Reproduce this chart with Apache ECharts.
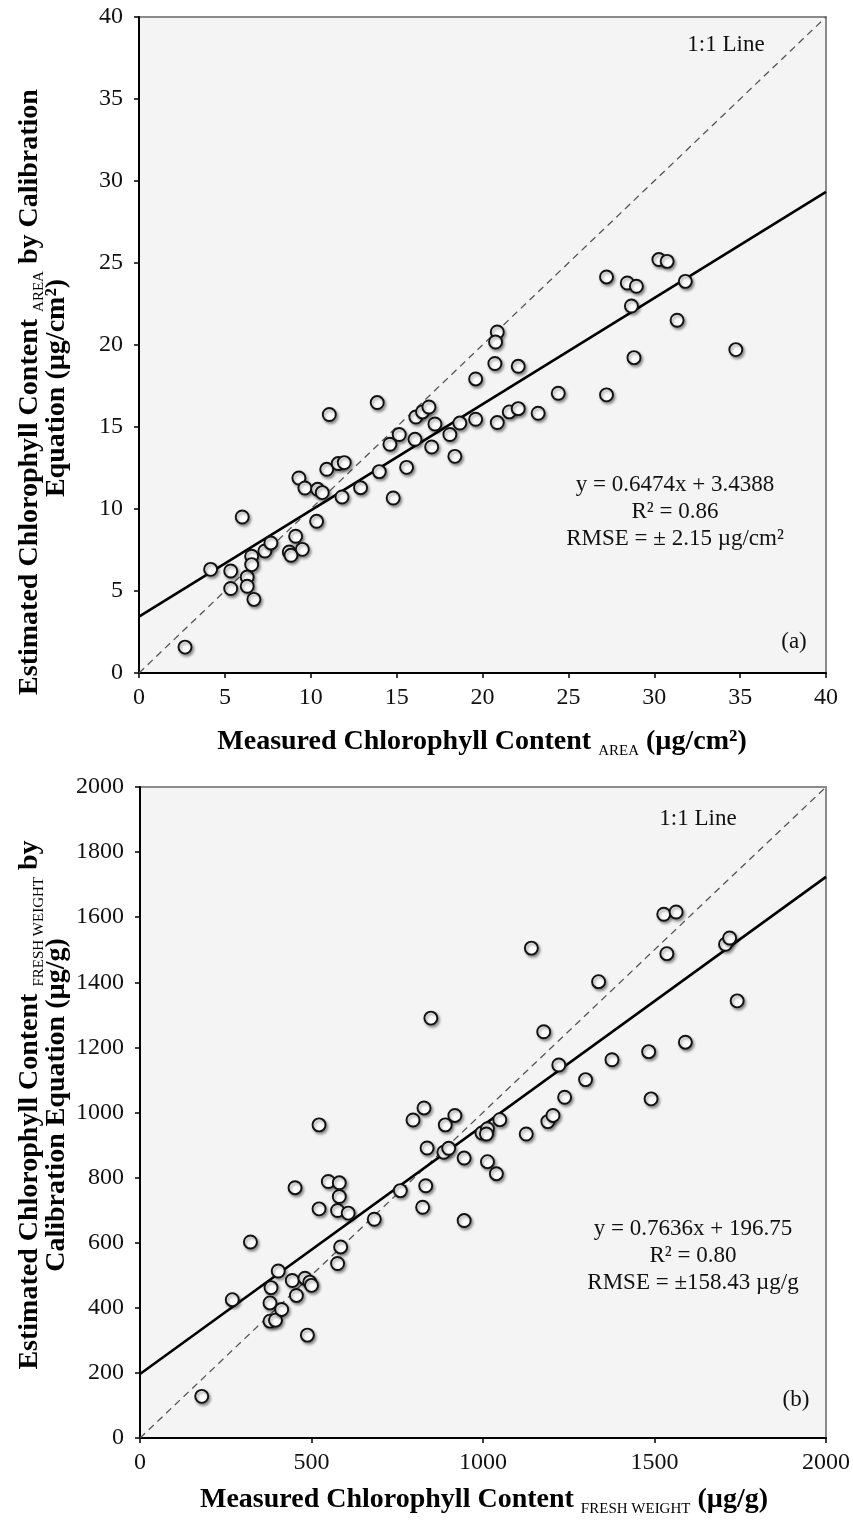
<!DOCTYPE html>
<html>
<head>
<meta charset="utf-8">
<script src="https://cdn.jsdelivr.net/npm/echarts@6/dist/echarts.min.js"></script>
<style>
  html, body { margin: 0; padding: 0; background: #ffffff; }
  #chart { width: 853px; height: 1521px; }
</style>
</head>
<body>
<div id="chart"></div>
<script>
// ---- Panel (a): chlorophyll content per area (µg/cm²) ----
const aMeasured = [2.68, 4.17, 6.01, 5.34, 5.34, 6.30, 6.30, 6.56, 6.56, 6.69, 7.33, 7.68, 8.75, 8.85, 9.12, 9.51,
  9.31, 9.66, 10.34, 10.40, 10.67, 11.08, 10.93, 11.60, 11.95, 11.82, 12.90, 13.87, 13.99, 14.61, 14.80, 15.15,
  15.58, 16.07, 16.12, 16.51, 16.88, 17.04, 17.23, 18.10, 18.39, 18.68, 19.60, 19.60, 20.86, 20.76, 20.72, 20.86,
  21.56, 22.08, 22.08, 23.24, 24.41, 27.22, 27.22, 28.43, 28.96, 28.67, 28.82, 30.27, 30.75, 31.81, 31.33, 34.75];
const aEstimated = [1.58, 6.32, 9.51, 6.22, 5.15, 5.85, 5.29, 7.12, 6.61, 4.49, 7.44, 7.93, 7.38, 7.18, 8.34, 7.54,
  11.89, 11.28, 9.25, 11.20, 11.00, 15.76, 12.42, 12.77, 12.83, 10.73, 11.30, 16.49, 12.28, 13.95, 10.67, 14.54,
  12.54, 14.25, 15.61, 15.92, 16.22, 13.78, 15.18, 14.54, 13.21, 15.24, 17.93, 15.47, 20.79, 20.18, 18.87, 15.27,
  15.92, 16.12, 18.70, 15.84, 17.06, 24.15, 16.96, 23.78, 23.58, 22.38, 19.23, 25.21, 25.10, 23.88, 21.51, 19.72];
const aSlope = 0.6474;
const aIntercept = 3.4388;
const aAxisMax = 40;
const aAxisStep = 5;

// ---- Panel (b): chlorophyll content per fresh weight (µg/g) ----
const bMeasured = [180, 269, 322, 379, 379, 395, 382, 403, 413, 444, 456, 452, 481, 495, 500, 488,
  522, 522, 549, 581, 581, 576, 607, 585, 576, 683, 759, 796, 828, 833, 824, 837,
  848, 890, 918, 886, 900, 945, 945, 997, 1013, 1010, 1049, 1013, 1039, 1126, 1141, 1177,
  1189, 1204, 1221, 1238, 1299, 1337, 1376, 1483, 1490, 1527, 1563, 1536, 1590, 1707, 1719, 1741];
const bEstimated = [128, 425, 602, 415, 359, 362, 462, 513, 395, 484, 438, 769, 491, 479, 469, 316,
  962, 704, 788, 784, 742, 699, 691, 587, 536, 672, 760, 977, 1014, 775, 709, 891,
  1290, 962, 991, 878, 890, 860, 668, 937, 950, 934, 978, 849, 812, 934, 1505, 1248,
  972, 991, 1146, 1047, 1101, 1402, 1162, 1187, 1042, 1609, 1616, 1488, 1216, 1517, 1536, 1343];
const bSlope = 0.7636;
const bIntercept = 196.75;
const bAxisMax = 2000;
const bXStep = 500;
const bYStep = 200;

// ---- Texts ----
const aEquation = ['y = 0.6474x + 3.4388', 'R² = 0.86', 'RMSE = ± 2.15 µg/cm²'];
const bEquation = ['y = 0.7636x + 196.75', 'R² = 0.80', 'RMSE = ±158.43 µg/g'];
const oneToOneLabel = '1:1 Line';

const SERIF = '"Liberation Serif", "Times New Roman", serif';

function pairs(xs, ys) { return xs.map((x, i) => [x, ys[i]]); }
function fitLine(slope, intercept, max) { return [[0, intercept], [max, slope * max + intercept]]; }

const scatterStyle = {
  color: '#ffffff',
  opacity: 1,
  borderColor: '#111111',
  borderWidth: 1.9,
  shadowBlur: 3,
  shadowColor: 'rgba(0,0,0,0.4)',
  shadowOffsetX: 1.5,
  shadowOffsetY: 2
};

function axisCommon(min, max, step) {
  return {
    type: 'value', min: min, max: max, interval: step,
    axisLine: { show: true, onZero: false, lineStyle: { color: '#000', width: 2 } },
    axisTick: { show: true, length: 5, lineStyle: { color: '#000', width: 1.5 } },
    splitLine: { show: false },
    axisLabel: { color: '#111', fontFamily: SERIF, fontSize: 24, formatter: function (v) { return String(v); } }
  };
}

const xa = axisCommon(0, aAxisMax, aAxisStep); xa.gridIndex = 0; xa.axisLabel.margin = 13;
const ya = axisCommon(0, aAxisMax, aAxisStep); ya.gridIndex = 0; ya.axisLabel.margin = 16;
const xb = axisCommon(0, bAxisMax, bXStep); xb.gridIndex = 1; xb.axisLabel.margin = 13;
const yb = axisCommon(0, bAxisMax, bYStep); yb.gridIndex = 1; yb.axisLabel.margin = 16;

const titleRich = {
  sub: { fontFamily: SERIF, fontSize: 15, fontWeight: 'normal', verticalAlign: 'bottom', lineHeight: 16 }
};
function titleText(x, y, text, rotated) {
  return {
    type: 'text', x: x, y: y, rotation: rotated ? Math.PI / 2 : 0,
    style: {
      text: text, fontFamily: SERIF, fontSize: 28, fontWeight: 'bold', fill: '#000',
      align: 'center', verticalAlign: 'middle', lineHeight: 34, rich: titleRich
    }
  };
}
function plainText(x, y, text, size) {
  return {
    type: 'text', x: x, y: y,
    style: { text: text, fontFamily: SERIF, fontSize: size, fill: '#111', align: 'center', verticalAlign: 'middle', lineHeight: 27 }
  };
}

const option = {
  backgroundColor: '#ffffff',
  animation: false,
  grid: [
    { left: 139, top: 17, width: 687, height: 656, show: true, backgroundColor: '#f4f4f4', borderColor: '#8a8a8a', borderWidth: 2 },
    { left: 140, top: 787, width: 688, height: 651, show: true, backgroundColor: '#f4f4f4', borderColor: '#8a8a8a', borderWidth: 2 }
  ],
  xAxis: [xa, xb],
  yAxis: [ya, yb],
  series: [
    { type: 'line', xAxisIndex: 0, yAxisIndex: 0, data: [[0, 0], [aAxisMax, aAxisMax]], showSymbol: false, silent: true,
      lineStyle: { color: '#555', width: 1.3, type: [7, 5] }, z: 2 },
    { type: 'line', xAxisIndex: 0, yAxisIndex: 0, data: fitLine(aSlope, aIntercept, aAxisMax), showSymbol: false, silent: true,
      lineStyle: { color: '#000', width: 2.6 }, z: 3 },
    { type: 'scatter', xAxisIndex: 0, yAxisIndex: 0, data: pairs(aMeasured, aEstimated), symbol: 'circle', symbolSize: 13,
      itemStyle: scatterStyle, z: 4 },
    { type: 'line', xAxisIndex: 1, yAxisIndex: 1, data: [[0, 0], [bAxisMax, bAxisMax]], showSymbol: false, silent: true,
      lineStyle: { color: '#555', width: 1.3, type: [7, 5] }, z: 2 },
    { type: 'line', xAxisIndex: 1, yAxisIndex: 1, data: fitLine(bSlope, bIntercept, bAxisMax), showSymbol: false, silent: true,
      lineStyle: { color: '#000', width: 2.6 }, z: 3 },
    { type: 'scatter', xAxisIndex: 1, yAxisIndex: 1, data: pairs(bMeasured, bEstimated), symbol: 'circle', symbolSize: 13,
      itemStyle: scatterStyle, z: 4 }
  ],
  graphic: [
    // Panel (a) annotations
    plainText(726, 45, oneToOneLabel, 23),
    plainText(675, 485, aEquation[0], 23),
    plainText(675, 512, aEquation[1], 23),
    plainText(675, 539, aEquation[2], 23),
    plainText(794, 642, '(a)', 23),
    // Panel (b) annotations
    plainText(698, 819, oneToOneLabel, 23),
    plainText(693, 1229, bEquation[0], 23),
    plainText(693, 1256, bEquation[1], 23),
    plainText(693, 1283, bEquation[2], 23),
    plainText(796, 1400, '(b)', 23),
    // Axis titles
    titleText(482, 742, 'Measured Chlorophyll Content {sub|AREA} (µg/cm²)', false),
    titleText(30, 392, 'Estimated Chlorophyll Content {sub|AREA} by Calibration', true),
    titleText(57, 388, 'Equation (µg/cm²)', true),
    titleText(484, 1500, 'Measured Chlorophyll Content {sub|FRESH WEIGHT} (µg/g)', false),
    titleText(30, 1105, 'Estimated Chlorophyll Content {sub|FRESH WEIGHT} by', true),
    titleText(57, 1105, 'Calibration Equation (µg/g)', true)
  ]
};

const chart = echarts.init(document.getElementById('chart'), null, { renderer: 'canvas' });
chart.setOption(option);
</script>
</body>
</html>
